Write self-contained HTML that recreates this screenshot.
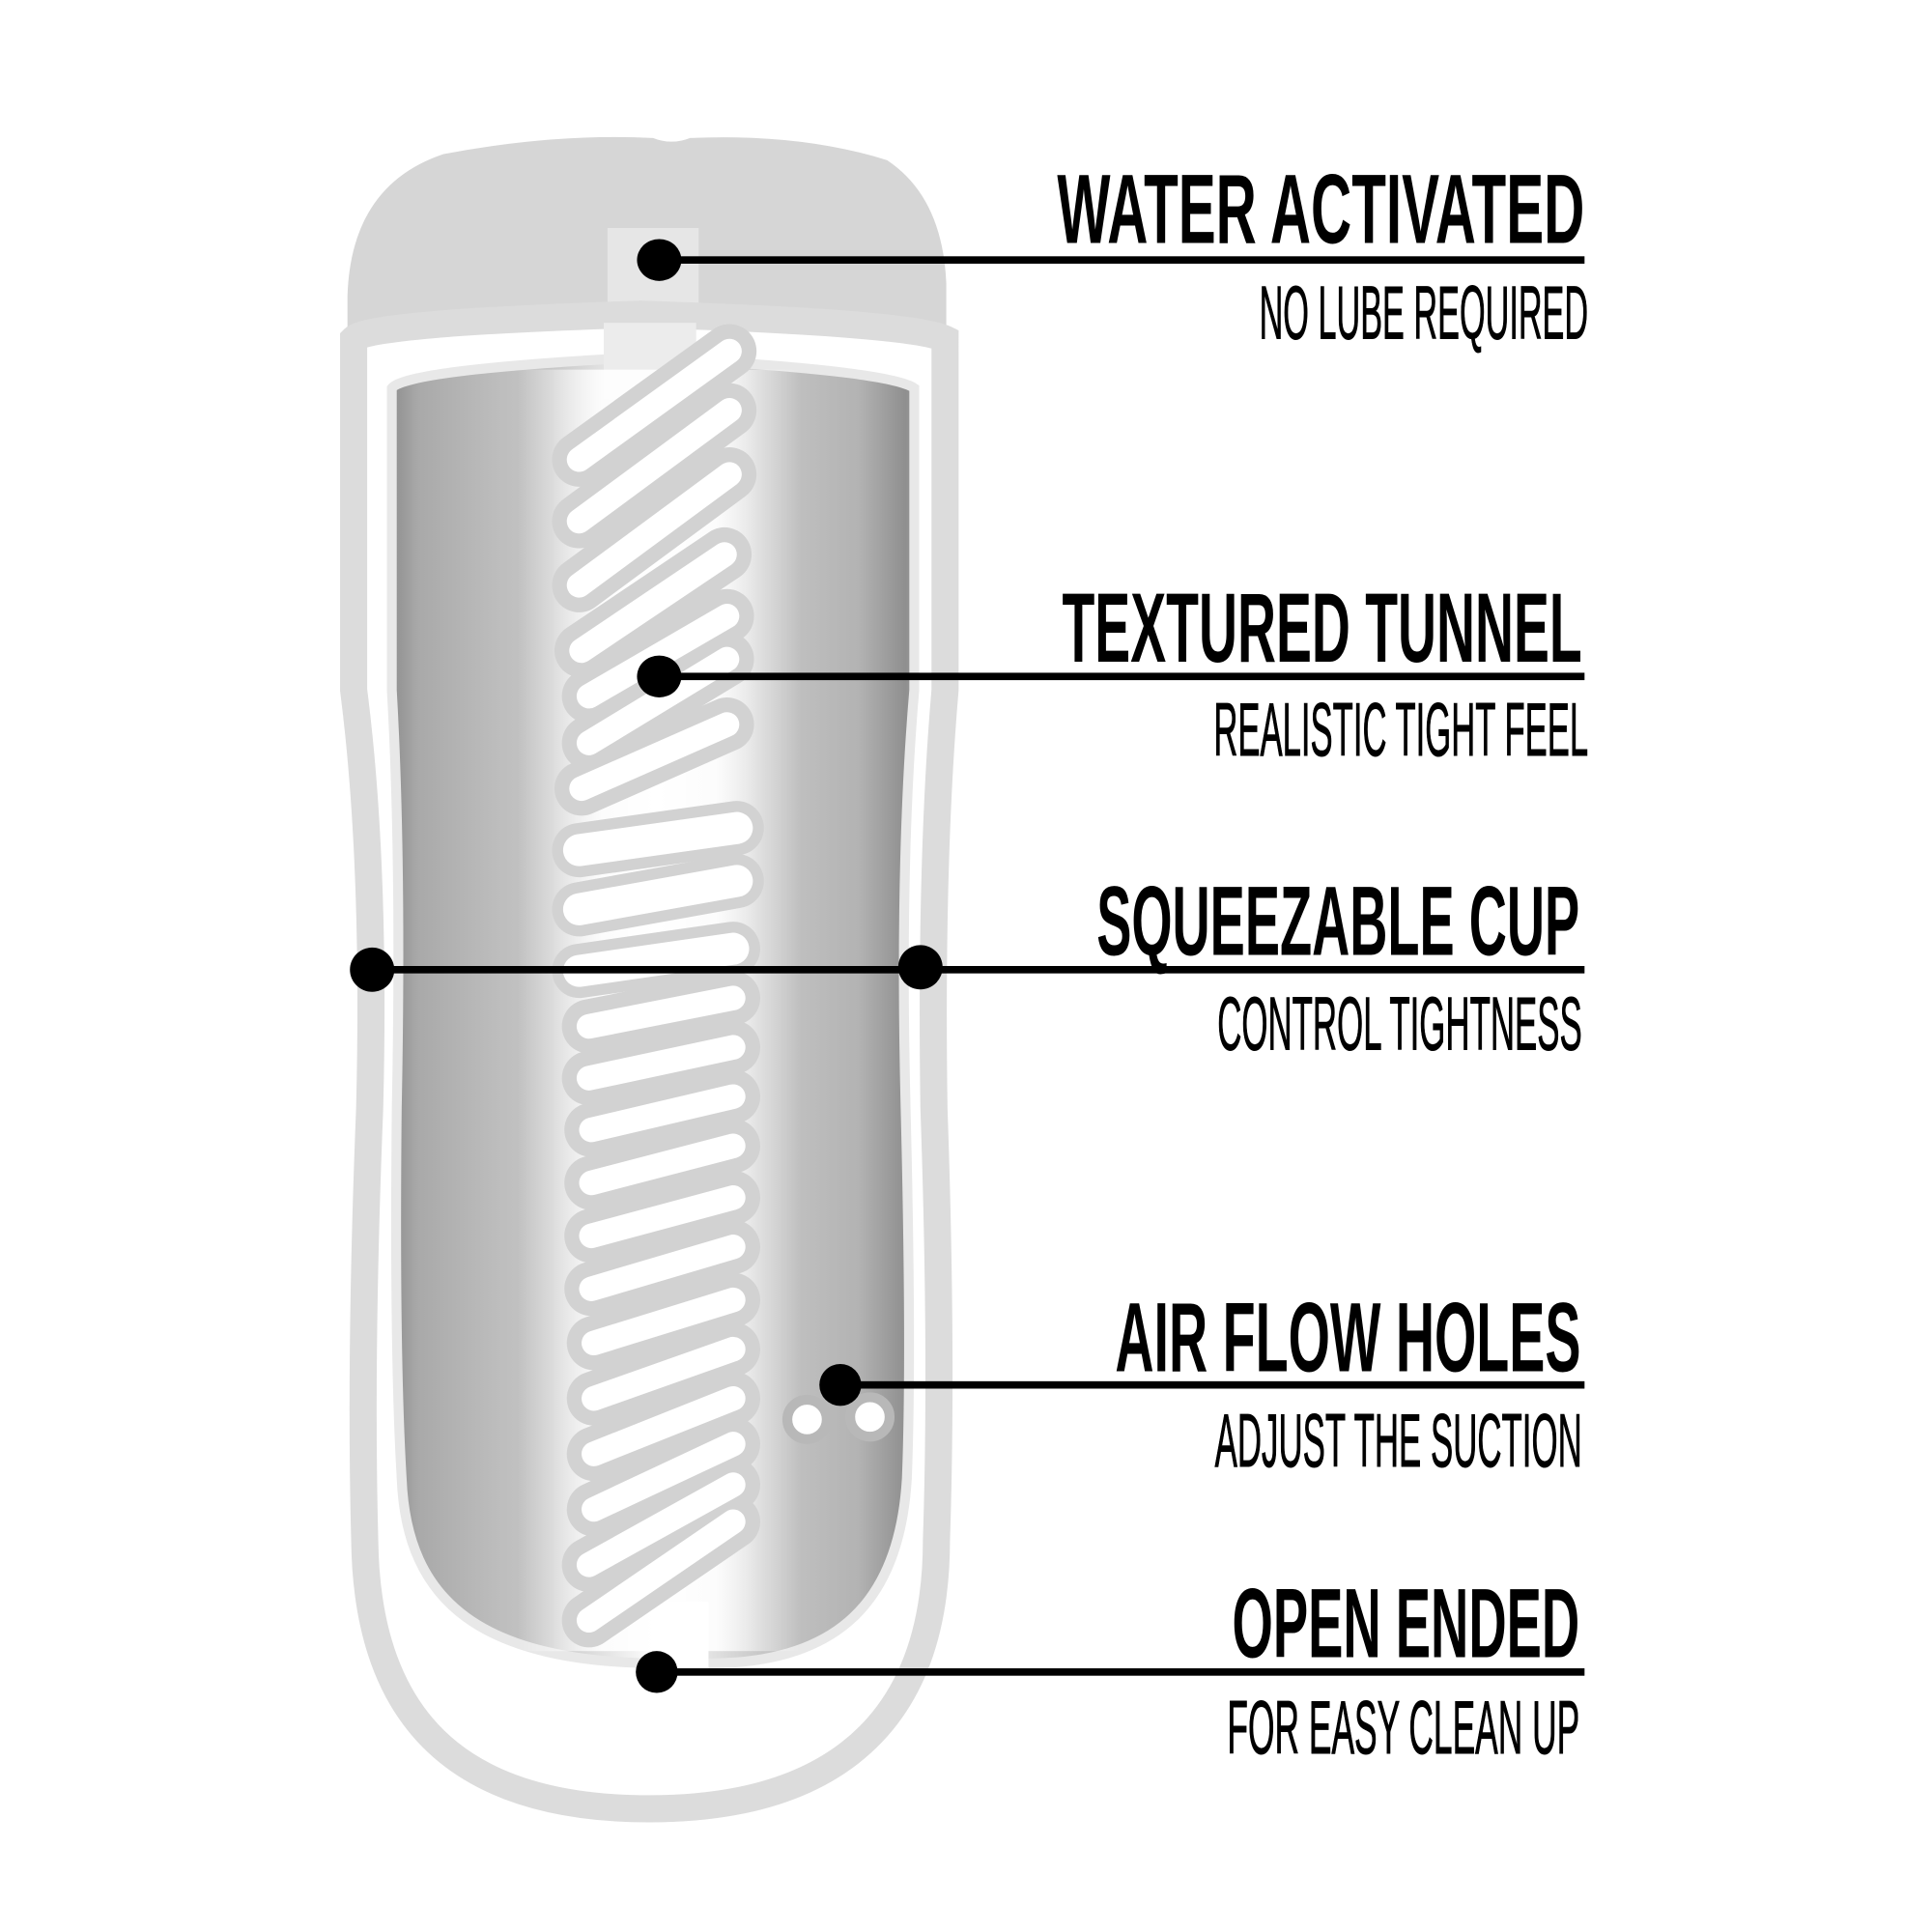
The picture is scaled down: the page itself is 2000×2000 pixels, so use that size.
<!DOCTYPE html>
<html><head><meta charset="utf-8"><style>
html,body{margin:0;padding:0;background:#fff;}
svg{display:block;}
text{font-family:"Liberation Sans Narrow","Liberation Sans",sans-serif;fill:#000;}
</style></head><body>
<svg width="2000" height="2000" viewBox="0 0 1568 1568" xmlns="http://www.w3.org/2000/svg">
<defs>
<linearGradient id="body" x1="318" y1="0" x2="748" y2="0" gradientUnits="userSpaceOnUse">
<stop offset="0" stop-color="#8f8f8f"/>
<stop offset="0.05" stop-color="#a9a9a9"/>
<stop offset="0.2" stop-color="#bdbdbd"/>
<stop offset="0.3" stop-color="#c6c6c6"/>
<stop offset="0.5" stop-color="#ffffff"/>
<stop offset="0.7" stop-color="#c6c6c6"/>
<stop offset="0.88" stop-color="#b3b3b3"/>
<stop offset="0.97" stop-color="#8f8f8f"/>
<stop offset="1" stop-color="#a0a0a0"/>
</linearGradient>
<linearGradient id="glow" x1="420" y1="0" x2="650" y2="0" gradientUnits="userSpaceOnUse">
<stop offset="0" stop-color="#fff" stop-opacity="0"/>
<stop offset="0.3" stop-color="#fff" stop-opacity="0.9"/>
<stop offset="0.7" stop-color="#fff" stop-opacity="0.9"/>
<stop offset="1" stop-color="#fff" stop-opacity="0"/>
</linearGradient>
</defs>
<!-- top cap -->
<path d="M282,268 L282,240 Q285,150 360,125 Q450,108 530,112 Q545,118 560,112 Q650,108 720,130 Q765,160 768,230 L768,268 Z" fill="#d6d6d6"/>
<rect x="493" y="185" width="74" height="90" fill="#e6e6e6"/>
<!-- outer band -->
<path d="M287,275 Q300,262 520,255 Q740,262 767,275 L767,560 Q755,700 758,900 Q765,1100 760,1250 C760,1420 650,1468 527,1468 C400,1468 298,1420 296,1250 Q292,1100 300,900 Q305,700 287,560 Z" fill="#fff" stroke="#dcdcdc" stroke-width="22"/>
<!-- inner frame -->
<path d="M318,315 Q330,300 520,290 Q720,300 742,315 L742,560 Q730,700 735,900 Q740,1100 736,1200 C730,1300 680,1350 575,1350 L540,1350 C390,1350 330,1300 326,1200 Q320,1100 322,900 Q326,700 318,560 Z" fill="url(#body)" stroke="#e8e8e8" stroke-width="8"/>
<!-- channel top -->
<rect x="490" y="262" width="75" height="62" fill="#ececec"/>
<!-- glow band -->
<rect x="420" y="300" width="230" height="1040" fill="url(#glow)"/>
<!-- bottom slot -->
<path d="M533,1300 L575,1300 L575,1356 L533,1356 Z" fill="#fff"/>
<!-- slats -->
<g stroke-linecap="round" fill="none">
<g stroke="#d2d2d2" stroke-width="44">
<line x1="470" y1="373" x2="592" y2="285"/>
<line x1="470" y1="423" x2="592" y2="333"/>
<line x1="470" y1="475" x2="592" y2="385"/>
<line x1="472" y1="528" x2="588" y2="450"/>
<line x1="478" y1="565" x2="590" y2="500"/>
<line x1="478" y1="603" x2="590" y2="535"/>
<line x1="472" y1="640" x2="590" y2="588"/>
<line x1="470" y1="690" x2="598" y2="672"/>
<line x1="470" y1="738" x2="598" y2="715"/>
<line x1="470" y1="788" x2="595" y2="770"/>
<line x1="478" y1="833" x2="595" y2="810"/>
<line x1="478" y1="875" x2="595" y2="850"/>
<line x1="480" y1="917" x2="595" y2="890"/>
<line x1="480" y1="960" x2="595" y2="930"/>
<line x1="480" y1="1003" x2="595" y2="972"/>
<line x1="480" y1="1046" x2="595" y2="1012"/>
<line x1="482" y1="1090" x2="595" y2="1055"/>
<line x1="482" y1="1135" x2="595" y2="1095"/>
<line x1="482" y1="1180" x2="595" y2="1135"/>
<line x1="482" y1="1225" x2="595" y2="1172"/>
<line x1="478" y1="1270" x2="595" y2="1205"/>
<line x1="478" y1="1315" x2="595" y2="1235"/>
</g>
<g stroke="#fff" stroke-width="20">
<line x1="470" y1="373" x2="592" y2="285"/>
<line x1="470" y1="423" x2="592" y2="333"/>
<line x1="470" y1="475" x2="592" y2="385"/>
<line x1="472" y1="528" x2="588" y2="450"/>
<line x1="478" y1="565" x2="590" y2="500"/>
<line x1="478" y1="603" x2="590" y2="535"/>
<line x1="472" y1="640" x2="590" y2="588"/>
<line x1="470" y1="690" x2="598" y2="672" stroke-width="26"/>
<line x1="470" y1="738" x2="598" y2="715" stroke-width="26"/>
<line x1="470" y1="788" x2="595" y2="770" stroke-width="26"/>
<line x1="478" y1="833" x2="595" y2="810"/>
<line x1="478" y1="875" x2="595" y2="850"/>
<line x1="480" y1="917" x2="595" y2="890"/>
<line x1="480" y1="960" x2="595" y2="930"/>
<line x1="480" y1="1003" x2="595" y2="972"/>
<line x1="480" y1="1046" x2="595" y2="1012"/>
<line x1="482" y1="1090" x2="595" y2="1055"/>
<line x1="482" y1="1135" x2="595" y2="1095"/>
<line x1="482" y1="1180" x2="595" y2="1135"/>
<line x1="482" y1="1225" x2="595" y2="1172"/>
<line x1="478" y1="1270" x2="595" y2="1205"/>
<line x1="478" y1="1315" x2="595" y2="1235"/>
</g>
</g>
<!-- air holes -->
<circle cx="655" cy="1152" r="16" fill="#fff" stroke="#b8b8b8" stroke-width="8"/>
<circle cx="706" cy="1150" r="16" fill="#fff" stroke="#b8b8b8" stroke-width="8"/>
<!-- connectors -->
<g fill="#000">
<rect x="535" y="208" width="751" height="6"/>
<ellipse cx="535" cy="211" rx="18" ry="17"/>
<rect x="535" y="546" width="751" height="6"/>
<ellipse cx="535" cy="549" rx="18" ry="17"/>
<rect x="300" y="784" width="986" height="6"/>
<ellipse cx="302" cy="787" rx="18" ry="18"/>
<ellipse cx="747" cy="785" rx="18" ry="18"/>
<rect x="682" y="1121" width="604" height="6"/>
<ellipse cx="682" cy="1124" rx="17" ry="17"/>
<rect x="533" y="1354" width="753" height="6"/>
<ellipse cx="533" cy="1357" rx="17" ry="17"/>
</g>
<!-- labels -->
<g font-weight="bold" font-size="80">
<text x="858" y="197" textLength="428" lengthAdjust="spacingAndGlyphs">WATER ACTIVATED</text>
<text x="862" y="537" textLength="422" lengthAdjust="spacingAndGlyphs">TEXTURED TUNNEL</text>
<text x="890" y="775" textLength="392" lengthAdjust="spacingAndGlyphs">SQUEEZABLE CUP</text>
<text x="905" y="1113" textLength="378" lengthAdjust="spacingAndGlyphs">AIR FLOW HOLES</text>
<text x="1000" y="1345" textLength="282" lengthAdjust="spacingAndGlyphs">OPEN ENDED</text>
</g>
<g font-size="61" stroke="#000" stroke-width="0.8">
<text x="1022" y="275" textLength="267" lengthAdjust="spacingAndGlyphs">NO LUBE REQUIRED</text>
<text x="985" y="613" textLength="304" lengthAdjust="spacingAndGlyphs">REALISTIC TIGHT FEEL</text>
<text x="988" y="852" textLength="296" lengthAdjust="spacingAndGlyphs">CONTROL TIGHTNESS</text>
<text x="986" y="1190" textLength="298" lengthAdjust="spacingAndGlyphs">ADJUST THE SUCTION</text>
<text x="996" y="1423" textLength="286" lengthAdjust="spacingAndGlyphs">FOR EASY CLEAN UP</text>
</g>
</svg>
</body></html>
